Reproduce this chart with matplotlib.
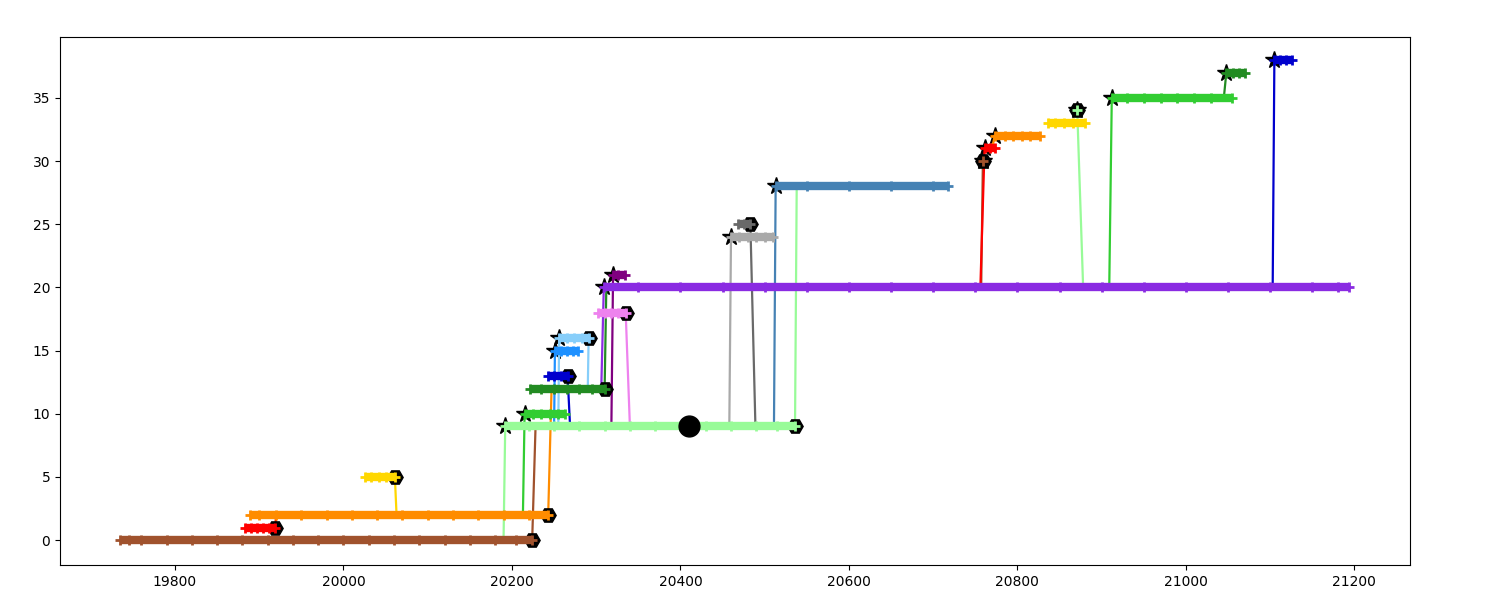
import matplotlib
matplotlib.use("Agg")
import matplotlib.pyplot as plt

# ---- branch data ----
branch_y = [0, 1, 2, 5, 9, 10, 12, 13, 15, 16, 18, 20, 21, 24, 25, 28, 30, 31, 32, 33, 34, 35, 37, 38]
branch_color = ["sienna", "red", "darkorange", "gold", "palegreen", "limegreen", "forestgreen",
                "mediumblue", "dodgerblue", "lightskyblue", "violet", "blueviolet", "purple",
                "darkgray", "dimgray", "steelblue", "sienna", "red", "darkorange", "gold",
                "palegreen", "limegreen", "forestgreen", "mediumblue"]
branch_commits = [
    [19735, 19745, 19760, 19790, 19820, 19850, 19880, 19910, 19940, 19970, 20000, 20030, 20060,
     20090, 20120, 20150, 20180, 20205, 20224],
    [19883, 19890, 19897, 19905, 19912, 19919],
    [19889, 19900, 19920, 19950, 19980, 20010, 20040, 20070, 20100, 20130, 20160, 20190, 20220,
     20243],
    [20025, 20033, 20042, 20050, 20061],
    [20192, 20220, 20250, 20280, 20310, 20340, 20370, 20400, 20430, 20460, 20490, 20515, 20536],
    [20215, 20225, 20235, 20245, 20255, 20263],
    [20221, 20235, 20250, 20265, 20280, 20295, 20310],
    [20243, 20250, 20258, 20266],
    [20251, 20258, 20265, 20272, 20278],
    [20256, 20265, 20274, 20283, 20291],
    [20302, 20310, 20318, 20326, 20335],
    [20309, 20350, 20400, 20450, 20500, 20550, 20600, 20650, 20700, 20750, 20800, 20850, 20900,
     20950, 21000, 21050, 21100, 21150, 21180, 21193],
    [20320, 20326, 20334],
    [20460, 20470, 20480, 20490, 20500, 20510],
    [20468, 20475, 20483],
    [20513, 20550, 20600, 20650, 20700, 20718],
    [20759],
    [20761, 20767, 20773],
    [20773, 20785, 20795, 20805, 20815, 20827],
    [20836, 20845, 20855, 20866, 20880],
    [20871],
    [20912, 20930, 20950, 20970, 20990, 21010, 21030, 21055],
    [21048, 21056, 21063, 21070],
    [21105, 21112, 21119, 21126],
]
branch_star = [0, 0, 0, 0, 1, 1, 0, 0, 1, 1, 0, 1, 1, 1, 0, 1, 1, 1, 1, 0, 1, 1, 1, 1]
branch_hex = [1, 1, 1, 1, 1, 0, 1, 1, 0, 1, 1, 0, 0, 0, 1, 0, 1, 0, 0, 0, 1, 0, 0, 0]

# ---- link (fork / merge) lines ----
link_x0 = [20061, 19919, 20190, 20213, 20224, 20243, 20266, 20250, 20255, 20291, 20310, 20306,
           20318, 20335, 20458, 20483, 20511, 20536, 20757, 20756, 20770, 20878, 20909, 21045, 21103]
link_y0 = [5, 1, 0, 2, 0, 2, 13, 9, 9, 16, 12, 12, 9, 18, 9, 25, 9, 9, 20, 20, 31, 20, 20, 35, 20]
link_x1 = [20063, 19920, 20192, 20215, 20228, 20247, 20269, 20251, 20256, 20290, 20312, 20309,
           20320, 20340, 20460, 20489, 20513, 20538, 20759, 20761, 20773, 20871, 20912, 21048, 21105]
link_y1 = [2, 2, 9, 10, 9, 12, 9, 15, 16, 12, 20, 20, 21, 9, 24, 9, 28, 28, 30, 31, 32, 34, 35, 37, 38]
link_color = ["gold", "red", "palegreen", "limegreen", "sienna", "darkorange", "mediumblue",
              "dodgerblue", "lightskyblue", "lightskyblue", "forestgreen", "blueviolet", "purple",
              "violet", "darkgray", "dimgray", "steelblue", "palegreen", "sienna", "red",
              "darkorange", "palegreen", "limegreen", "forestgreen", "mediumblue"]

# ---- highlighted point ----
marker_x = [20410]
marker_y = [9]

fig = plt.figure(figsize=(15, 6), dpi=100)
ax = fig.add_axes([0.04, 0.058, 0.90, 0.88])

for x0, y0, x1, y1, c in zip(link_x0, link_y0, link_x1, link_y1, link_color):
    ax.plot([x0, x1], [y0, y1], color=c, lw=1.6, zorder=1)

for y, c, xs, st, hx in zip(branch_y, branch_color, branch_commits, branch_star, branch_hex):
    if st:
        ax.plot([xs[0]], [y], marker="*", color="black", ms=13, ls="none", zorder=0.5)
    if hx:
        ax.plot([xs[-1]], [y], marker="H", color="black", ms=11, ls="none", zorder=2)
    ys = [y] * len(xs)
    ax.plot(xs, ys, color=c, lw=6, solid_capstyle="butt", zorder=3)
    ax.plot(xs, ys, color=c, ls="none", marker="+", ms=7, mew=2, zorder=3)

ax.plot(marker_x, marker_y, marker="o", color="black", ms=15, ls="none", zorder=5)

ax.set_yticks([0, 5, 10, 15, 20, 25, 30, 35])
ax.set_xticks([19800, 20000, 20200, 20400, 20600, 20800, 21000, 21200])
ax.set_xlim(19663.5, 21266)
ax.set_ylim(-1.98, 39.8)

fig.savefig("out.png", dpi=100)
